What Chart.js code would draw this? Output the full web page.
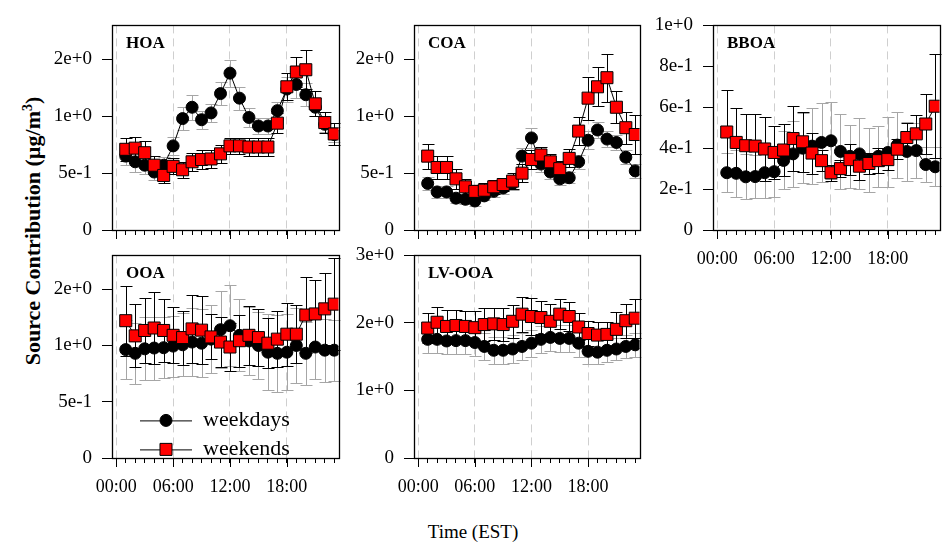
<!DOCTYPE html>
<html>
<head>
<meta charset="utf-8">
<script src="https://cdn.jsdelivr.net/npm/chart.js@4/dist/chart.umd.min.js"></script>
<style>
html,body{margin:0;padding:0;background:#fff;}
#fig{position:relative;width:948px;height:544px;overflow:hidden;background:#fff;font-family:"Liberation Serif","Times New Roman",serif;color:#000;}
#fig canvas{position:absolute;}
#ytitle{position:absolute;left:33px;top:231px;transform:translate(-50%,-50%) rotate(-90deg);font-weight:bold;font-size:22px;white-space:nowrap;}
#ytitle sup{font-size:14px;vertical-align:0.55em;line-height:0;}
#xtitle{position:absolute;left:473px;top:532px;transform:translate(-50%,-50%);font-size:19px;white-space:nowrap;}
</style>
</head>
<body>
<div id="fig">
  <div id="ytitle">Source Contribution (µg/m<sup>3</sup>)</div>
  <div id="xtitle">Time (EST)</div>
</div>
<script>
// ---------------- data ----------------
const hours = [1,2,3,4,5,6,7,8,9,10,11,12,13,14,15,16,17,18,19,20,21,22,23];
const xTickValues = [0,1,2,3,4,5,6,7,8,9,10,11,12,13,14,15,16,17,18,19,20,21,22,23];
const xTickLabels = ['00:00','06:00','12:00','18:00'];
const seriesLabels = ['weekdays','weekends'];

// HOA
const hoaWeekdays = [0.65,0.60,0.57,0.51,0.57,0.74,0.98,1.08,0.97,1.03,1.20,1.38,1.16,0.99,0.915,0.915,1.05,1.24,1.28,1.19,1.08,0.93,0.84];
const hoaWeekends = [0.71,0.72,0.68,0.57,0.48,0.56,0.53,0.60,0.62,0.625,0.67,0.74,0.74,0.73,0.73,0.73,0.94,1.26,1.39,1.41,1.11,0.945,0.845];
const hoaWeekdaysErr = [0.08,0.09,0.08,0.07,0.07,0.08,0.10,0.11,0.08,0.08,0.10,0.12,0.10,0.08,0.07,0.07,0.08,0.11,0.12,0.10,0.08,0.07,0.07];
const hoaWeekendsErr = [0.10,0.10,0.10,0.08,0.07,0.07,0.07,0.08,0.08,0.08,0.08,0.07,0.07,0.08,0.08,0.08,0.09,0.12,0.13,0.17,0.11,0.09,0.10];
// COA
const coaWeekdays = [0.41,0.335,0.335,0.28,0.27,0.255,0.30,0.34,0.37,0.41,0.65,0.81,0.58,0.51,0.45,0.46,0.60,0.79,0.88,0.80,0.77,0.64,0.52];
const coaWeekends = [0.65,0.55,0.55,0.45,0.38,0.34,0.35,0.38,0.40,0.43,0.50,0.62,0.66,0.60,0.54,0.63,0.87,1.16,1.26,1.34,1.08,0.90,0.84];
const coaWeekdaysErr = [0.06,0.05,0.05,0.04,0.04,0.04,0.04,0.05,0.05,0.06,0.07,0.09,0.07,0.06,0.05,0.05,0.06,0.08,0.07,0.07,0.07,0.06,0.06];
const coaWeekendsErr = [0.11,0.10,0.10,0.09,0.07,0.06,0.06,0.06,0.06,0.07,0.08,0.08,0.07,0.07,0.07,0.08,0.12,0.19,0.17,0.21,0.14,0.14,0.17];
// BBOA
const bboaWeekdays = [0.28,0.277,0.26,0.261,0.28,0.285,0.34,0.372,0.40,0.41,0.428,0.436,0.384,0.36,0.372,0.344,0.36,0.379,0.415,0.384,0.388,0.32,0.309];
const bboaWeekends = [0.479,0.428,0.412,0.41,0.396,0.379,0.391,0.447,0.431,0.376,0.339,0.28,0.30,0.344,0.312,0.325,0.339,0.344,0.395,0.452,0.47,0.518,0.605];
const bboaWeekdaysErr = [0.095,0.115,0.11,0.107,0.126,0.123,0.142,0.163,0.17,0.185,0.193,0.188,0.185,0.155,0.173,0.156,0.15,0.171,0.162,0.144,0.134,0.087,0.095];
const bboaWeekendsErr = [0.206,0.166,0.154,0.156,0.157,0.131,0.127,0.161,0.146,0.10,0.05,0.04,0.04,0.076,0.066,0.05,0.06,0.05,0.05,0.07,0.093,0.146,0.255];
// OOA
const ooaWeekdays = [0.963,0.93,0.97,0.977,0.98,0.994,1.006,1.03,1.02,1.056,1.14,1.175,1.09,1.04,1.0,0.94,0.93,0.94,1.0,0.93,0.986,0.958,0.958];
const ooaWeekends = [1.22,1.085,1.133,1.155,1.133,1.09,1.07,1.147,1.136,1.076,1.03,0.986,1.042,1.09,1.07,1.02,1.056,1.10,1.10,1.27,1.28,1.325,1.367];
const ooaWeekdaysErr = [0.26,0.27,0.28,0.28,0.27,0.27,0.28,0.30,0.30,0.30,0.34,0.36,0.32,0.30,0.30,0.34,0.34,0.34,0.33,0.28,0.28,0.28,0.27];
const ooaWeekendsErr = [0.31,0.28,0.285,0.32,0.28,0.25,0.24,0.30,0.30,0.20,0.22,0.21,0.23,0.26,0.25,0.22,0.25,0.28,0.26,0.34,0.30,0.32,0.41];
// LV-OOA
const lvooaWeekdays = [1.757,1.757,1.733,1.738,1.738,1.71,1.652,1.595,1.595,1.614,1.652,1.70,1.757,1.786,1.771,1.771,1.70,1.58,1.567,1.595,1.614,1.652,1.676];
const lvooaWeekends = [1.924,2.01,1.948,1.962,1.948,1.93,1.976,1.986,1.976,2.024,2.13,2.095,2.08,2.024,2.13,2.095,1.94,1.843,1.82,1.83,1.905,2.033,2.07];
const lvooaWeekdaysErr = [0.20,0.20,0.20,0.20,0.20,0.20,0.20,0.20,0.20,0.20,0.20,0.20,0.20,0.20,0.20,0.20,0.20,0.19,0.18,0.17,0.17,0.17,0.18];
const lvooaWeekendsErr = [0.22,0.22,0.24,0.23,0.23,0.24,0.25,0.24,0.24,0.24,0.26,0.27,0.25,0.25,0.22,0.22,0.20,0.19,0.20,0.19,0.26,0.25,0.29];

// y axis ticks (values and printed labels)
const ySmallTicks = [0,0.5,1.0,1.5];
const ySmallTickLabels = ['0','5e-1','1e+0','2e+0'];
const bboaYTicks = [0,0.2,0.4,0.6,0.8,1.0];
const bboaYTickLabels = ['0','2e-1','4e-1','6e-1','8e-1','1e+0'];
const lvooaYTicks = [0,1,2,3];
const lvooaYTickLabels = ['0','1e+0','2e+0','3e+0'];

// ---------------- layout / style ----------------
const FONT = '"Liberation Serif","Times New Roman",serif';
const Y_AXIS_W = 70, X_AXIS_H = 45, PAD_TOP = 14, PAD_RIGHT = 3;
const X_MIN = -0.45, X_MAX = 23.45;
const CAP = 6;

const panels = [
  {name:'HOA',   box:{left:112,top:18,right:345,bottom:230}, ymax:1.8, yTicks:ySmallTicks, yLabels:ySmallTickLabels, wd:hoaWeekdays, we:hoaWeekends, wdErr:hoaWeekdaysErr, weErr:hoaWeekendsErr, showX:false},
  {name:'COA',   box:{left:414,top:18,right:646,bottom:230}, ymax:1.8, yTicks:ySmallTicks, yLabels:ySmallTickLabels, wd:coaWeekdays, we:coaWeekends, wdErr:coaWeekdaysErr, weErr:coaWeekendsErr, showX:false},
  {name:'BBOA',  box:{left:713,top:18,right:946,bottom:230}, ymax:1.0, yTicks:bboaYTicks, yLabels:bboaYTickLabels, wd:bboaWeekdays, we:bboaWeekends, wdErr:bboaWeekdaysErr, weErr:bboaWeekendsErr, showX:true},
  {name:'OOA',   box:{left:112,top:248,right:345,bottom:458}, ymax:1.8, yTicks:ySmallTicks, yLabels:ySmallTickLabels, wd:ooaWeekdays, we:ooaWeekends, wdErr:ooaWeekdaysErr, weErr:ooaWeekendsErr, showX:true, legend:true},
  {name:'LV-OOA',box:{left:414,top:248,right:646,bottom:458}, ymax:3.0, yTicks:lvooaYTicks, yLabels:lvooaYTickLabels, wd:lvooaWeekdays, we:lvooaWeekends, wdErr:lvooaWeekdaysErr, weErr:lvooaWeekendsErr, showX:true}
];

const errorBarPlugin = {
  id:'errbars',
  beforeDatasetsDraw(chart){
    const ctx = chart.ctx, x = chart.scales.x, y = chart.scales.y;
    ctx.save();
    ctx.lineWidth = 1;
    chart.data.datasets.forEach(ds => {
      ctx.strokeStyle = ds.errColor;
      ds.data.forEach((pt, i) => {
        const e = ds.errors[i];
        const px = Math.round(x.getPixelForValue(pt.x)) + 0.5;
        const yt = Math.round(y.getPixelForValue(pt.y + e)) + 0.5;
        const yb = Math.round(y.getPixelForValue(pt.y - e)) + 0.5;
        ctx.beginPath();
        ctx.moveTo(px, yt); ctx.lineTo(px, yb);
        ctx.moveTo(px - CAP, yt); ctx.lineTo(px + CAP, yt);
        ctx.moveTo(px - CAP, yb); ctx.lineTo(px + CAP, yb);
        ctx.stroke();
      });
    });
    ctx.restore();
  }
};

const framePlugin = {
  id:'frame',
  afterDraw(chart, args, opts){
    const ctx = chart.ctx, a = chart.chartArea, x = chart.scales.x;
    ctx.save();
    // box
    ctx.strokeStyle = '#000';
    ctx.lineWidth = 1.3;
    ctx.strokeRect(Math.round(a.left)+0.5, Math.round(a.top)+0.5, Math.round(a.right-a.left), Math.round(a.bottom-a.top));
    // longer major ticks
    ctx.lineWidth = 1;
    [0,6,12,18].forEach(v => {
      const px = Math.round(x.getPixelForValue(v)) + 0.5;
      ctx.beginPath(); ctx.moveTo(px, a.bottom); ctx.lineTo(px, a.bottom + 9); ctx.stroke();
    });
    // panel label
    ctx.fillStyle = '#000';
    ctx.font = 'bold 17px ' + FONT;
    ctx.textBaseline = 'middle';
    ctx.textAlign = 'left';
    ctx.fillText(opts.title, a.left + 14, a.top + 18);
    // legend
    if (opts.legend) {
      const rows = [a.top + 165, a.top + 194];
      chart.data.datasets.forEach((ds, i) => {
        const yy = rows[i];
        ctx.strokeStyle = ds.borderColor; ctx.lineWidth = 1;
        ctx.beginPath(); ctx.moveTo(a.left + 28, yy + 0.5); ctx.lineTo(a.left + 80, yy + 0.5); ctx.stroke();
        ctx.fillStyle = ds.pointBackgroundColor; ctx.strokeStyle = ds.pointBorderColor; ctx.lineWidth = ds.pointBorderWidth;
        Chart.helpers.drawPoint(ctx, {pointStyle: ds.pointStyle, radius: ds.pointRadius, rotation: 0, borderWidth: ds.pointBorderWidth}, a.left + 54, yy);
        ctx.fillStyle = '#000';
        ctx.font = '22px ' + FONT;
        ctx.fillText(ds.label, a.left + 91, yy);
      });
    }
    ctx.restore();
  }
};

const fig = document.getElementById('fig');
panels.forEach(p => {
  const c = document.createElement('canvas');
  const cw = Y_AXIS_W + (p.box.right - p.box.left) + PAD_RIGHT;
  const ch = PAD_TOP + (p.box.bottom - p.box.top) + X_AXIS_H;
  c.width = cw; c.height = ch;
  c.style.left = (p.box.left - Y_AXIS_W) + 'px';
  c.style.top = (p.box.top - PAD_TOP) + 'px';
  c.style.width = cw + 'px'; c.style.height = ch + 'px';
  fig.appendChild(c);
  new Chart(c, {
    type: 'line',
    data: {
      datasets: [
        {label: seriesLabels[0], data: hours.map((h, i) => ({x: h, y: p.wd[i]})), errors: p.wdErr, errColor: '#a6a6a6',
         borderColor: '#000', borderWidth: 1, pointStyle: 'circle', pointRadius: 6, pointBackgroundColor: '#000',
         pointBorderColor: '#000', pointBorderWidth: 1, order: 1},
        {label: seriesLabels[1], data: hours.map((h, i) => ({x: h, y: p.we[i]})), errors: p.weErr, errColor: '#000',
         borderColor: '#000', borderWidth: 1, pointStyle: 'rect', pointRadius: 8.5, pointBackgroundColor: '#ff0000',
         pointBorderColor: '#000', pointBorderWidth: 1, order: 0}
      ]
    },
    options: {
      responsive: false, animation: false, devicePixelRatio: 1, events: [],
      layout: {padding: {top: PAD_TOP, right: PAD_RIGHT, left: 0, bottom: 0}},
      plugins: {legend: {display: false}, tooltip: {enabled: false}, frame: {title: p.name, legend: !!p.legend}},
      scales: {
        x: {
          type: 'linear', min: X_MIN, max: X_MAX,
          afterBuildTicks: s => { s.ticks = xTickValues.map(v => ({value: v})); },
          afterFit: s => { s.height = X_AXIS_H; },
          grid: {color: ctx => (ctx.tick && ctx.tick.value % 6 === 0) ? '#cfcfcf' : 'rgba(0,0,0,0)', lineWidth: 1,
                 tickColor: '#000', tickLength: 5, drawOnChartArea: true, drawTicks: true},
          border: {display: false, dash: [8, 5]},
          ticks: {autoSkip: false, maxRotation: 0, minRotation: 0, padding: 13, color: '#000', font: {family: FONT, size: 18},
                  callback: v => (p.showX && v % 6 === 0) ? xTickLabels[v / 6] : ''}
        },
        y: {
          min: 0, max: p.ymax,
          afterBuildTicks: s => { s.ticks = p.yTicks.map(v => ({value: v})); },
          afterFit: s => { s.width = Y_AXIS_W; },
          grid: {drawOnChartArea: false, drawTicks: true, tickLength: 10, tickColor: '#000'},
          border: {display: false},
          ticks: {padding: 10, color: '#000', font: {family: FONT, size: 19}, callback: (v, i) => p.yLabels[i]}
        }
      }
    },
    plugins: [errorBarPlugin, framePlugin]
  });
});
</script>
</body>
</html>
